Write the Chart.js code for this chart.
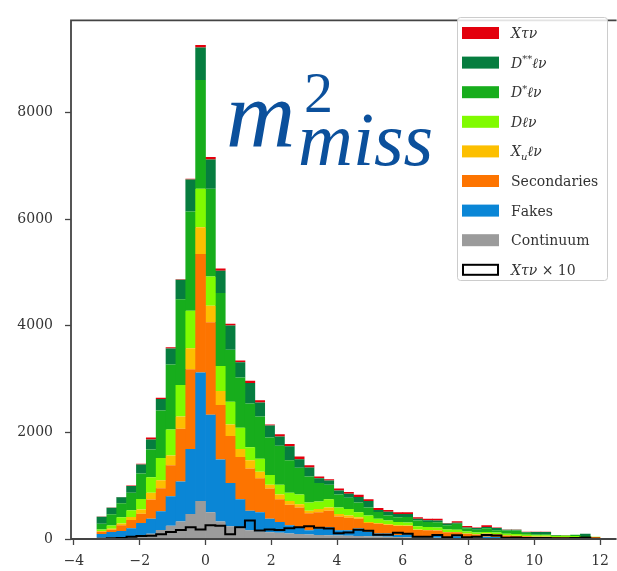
<!DOCTYPE html>
<html>
<head>
<meta charset="utf-8">
<title>m2 miss</title>
<script src="https://cdn.jsdelivr.net/npm/chart.js@4.4.1/dist/chart.umd.min.js"></script>
<style>
  html, body { margin: 0; padding: 0; background: #fff; }
  #wrap { width: 617px; height: 571px; position: relative; }
</style>
</head>
<body>
<div id="wrap"><canvas id="graph"></canvas></div>
<script>
// bin centres, 0.3 wide bins
const binCenters = [-3.15,-2.85,-2.55,-2.25,-1.95,-1.65,-1.35,-1.05,-0.75,-0.45,-0.15,0.15,0.45,0.75,1.05,1.35,1.65,1.95,2.25,2.55,2.85,3.15,3.45,3.75,4.05,4.35,4.65,4.95,5.25,5.55,5.85,6.15,6.45,6.75,7.05,7.35,7.65,7.95,8.25,8.55,8.85,9.15,9.45,9.75,10.05,10.35,10.65,10.95,11.25,11.55,11.85];

// stacked components, bottom to top
const continuum   = [25,30,35,45,65,100,170,250,330,470,714,500,330,240,200,165,140,125,115,105,95,85,75,70,65,60,55,50,45,40,38,35,30,28,25,22,20,18,16,14,12,10,9,8,7,6,5,4,4,3,2];
const fakes       = [67,100,115,155,235,280,350,550,750,1219,2410,1830,1160,810,545,366,360,254,202,151,130,80,121,150,100,105,141,84,59,64,35,50,15,20,30,15,30,12,10,30,25,5,3,2,2,2,1,1,1,0,0];
const secondaries = [45,45,110,155,175,360,430,585,990,1495,2225,1738,1023,884,792,792,640,567,428,385,366,316,304,311,256,232,182,166,180,160,173,160,125,115,105,90,75,70,60,55,50,50,45,40,35,35,30,30,28,22,36];
const xuLnu       = [15,17,30,60,80,130,150,180,230,397,501,306,263,213,152,154,123,73,91,73,62,50,62,60,49,42,30,17,14,11,10,10,7,7,6,5,5,5,4,4,3,3,3,2,2,2,2,2,2,1,1];
const dLnu        = [25,60,120,125,195,290,420,490,590,701,720,549,469,428,397,243,243,183,183,152,183,152,140,154,121,123,92,122,80,73,61,55,61,55,50,45,45,35,30,30,30,32,35,30,25,25,20,22,20,8,1];
const dstarLnu    = [110,214,260,330,480,520,890,1220,1606,1861,2044,1647,1372,975,946,824,794,701,732,611,500,488,347,274,245,212,183,152,130,91,91,105,110,95,100,80,110,60,55,70,45,60,65,35,20,20,12,12,23,20,0];
const dssLnu      = [130,120,112,125,170,185,218,300,366,600,609,549,415,458,286,384,262,225,171,262,160,170,91,80,73,73,104,123,35,73,62,55,30,33,32,35,20,14,30,23,40,12,12,13,40,41,2,1,1,45,0];
const xTauNu      = [4,5,5,8,10,38,20,21,11,17,47,46,43,31,31,43,42,19,42,42,54,44,31,21,37,37,43,31,37,31,30,30,30,25,30,6,30,30,9,30,9,5,5,4,3,3,1,1,1,1,0];
// black outline, X tau nu x 10
const xTauNu10    = [5,15,20,40,55,60,90,130,170,220,180,260,250,90,220,345,160,180,170,200,220,240,210,196,110,120,175,155,80,80,115,100,40,40,75,35,70,35,40,75,65,25,30,20,20,20,15,15,20,30,5];

const xTicks = [-4, -2, 0, 2, 4, 6, 8, 10, 12];
const yTicks = [0, 2000, 4000, 6000, 8000];

const seriesNames = ['Continuum', 'Fakes', 'Secondaries', 'Xuℓν', 'Dℓν', 'D*ℓν', 'D**ℓν', 'Xτν'];
const legendLabels = ['$Xτν$', '$D^{**}ℓν$', '$D^{*}ℓν$', '$Dℓν$', '$X_{u}ℓν$', 'Secondaries', 'Fakes', 'Continuum', '$Xτν$ × 10'];

const stackColors = ['#9b9b9b', '#0a86d6', '#fd7400', '#fcbf00', '#80fb00', '#17ad1c', '#067d3f', '#e3000d'];
const series = [continuum, fakes, secondaries, xuLnu, dLnu, dstarLnu, dssLnu, xTauNu];

const halfBin = (binCenters[1] - binCenters[0]) / 2;
const outline = [];
binCenters.forEach((c, i) => {
  outline.push({ x: c - halfBin, y: xTauNu10[i] });
  outline.push({ x: c + halfBin, y: xTauNu10[i] });
});

const datasets = series.map((vals, k) => ({
  type: 'bar',
  label: seriesNames[k],
  data: binCenters.map((c, i) => ({ x: c, y: vals[i] })),
  backgroundColor: stackColors[k],
  borderWidth: 0,
  inflateAmount: 0,
  stack: 'mc',
  order: 1,
  barPercentage: 1.07,
  categoryPercentage: 1
}));
datasets.push({
  type: 'line',
  label: 'Xτν × 10',
  data: outline,
  borderColor: '#000',
  borderWidth: 2,
  pointRadius: 0,
  fill: false,
  stack: 'ref',
  order: 0
});

// draw a label with $italic$, ^{sup} and _{sub} parts
function richText(ctx, s, x, y, size) {
  let italic = false, i = 0;
  while (i < s.length) {
    const ch = s[i];
    let txt, scale = 1, shift = 0;
    if (ch === '$') { italic = !italic; i++; continue; }
    if ((ch === '^' || ch === '_') && s[i + 1] === '{') {
      const end = s.indexOf('}', i);
      txt = s.slice(i + 2, end);
      i = end + 1;
      scale = 0.68;
      shift = ch === '^' ? -size * 0.38 : size * 0.24;
    } else {
      txt = ch; i++;
    }
    ctx.font = (italic ? 'italic ' : '') + Math.round(size * scale) + 'px "DejaVu Serif"';
    ctx.fillText(txt, x, y + shift);
    x += ctx.measureText(txt).width;
  }
}

const framePlugin = {
  id: 'frame',
  afterDatasetsDraw(chart) {
    const { ctx, chartArea: a } = chart;
    ctx.save();
    ctx.strokeStyle = '#444';
    ctx.lineWidth = 1.8;
    ctx.beginPath();
    ctx.moveTo(a.right + 2, a.top);
    ctx.lineTo(a.left, a.top);
    ctx.lineTo(a.left, a.bottom);
    ctx.lineTo(a.right + 2, a.bottom);
    ctx.stroke();
    ctx.restore();
  }
};

const legendPlugin = {
  id: 'boxLegend',
  afterDraw(chart) {
    const ctx = chart.ctx;
    const bx = 457, by = 17, bw = 150, bh = 263;
    ctx.save();
    ctx.fillStyle = 'rgba(255,255,255,0.85)';
    ctx.strokeStyle = '#cccccc';
    ctx.lineWidth = 1;
    ctx.beginPath();
    ctx.roundRect(bx + 0.5, by + 0.5, bw, bh, 3);
    ctx.fill();
    ctx.stroke();
    const order = [7, 6, 5, 4, 3, 2, 1, 0];
    legendLabels.forEach((lab, r) => {
      const cy = 33 + r * 29.6;
      if (r < order.length) {
        ctx.fillStyle = stackColors[order[r]];
        ctx.fillRect(462, cy - 6, 37, 12);
      } else {
        ctx.fillStyle = '#fff';
        ctx.fillRect(462, cy - 6, 37, 12);
        ctx.strokeStyle = '#000';
        ctx.lineWidth = 2;
        ctx.strokeRect(463, cy - 5, 35, 10);
      }
      ctx.fillStyle = '#333';
      ctx.textBaseline = 'alphabetic';
      richText(ctx, lab, 511, cy + 5, 14);
    });
    ctx.restore();
  }
};

const titlePlugin = {
  id: 'mmiss',
  afterDraw(chart) {
    const ctx = chart.ctx;
    ctx.save();
    ctx.fillStyle = '#0b509c';
    ctx.textBaseline = 'alphabetic';
    ctx.font = 'italic 96px "Liberation Serif"';
    ctx.fillText('m', 226, 147);
    ctx.font = '58px "Liberation Serif"';
    ctx.fillText('2', 304, 112);
    ctx.font = 'italic 76px "Liberation Serif"';
    ctx.fillText('miss', 298, 165);
    ctx.restore();
  }
};

const tickFont = { family: '"DejaVu Serif"', size: 14 };

new Chart(document.getElementById('graph').getContext('2d'), {
  type: 'bar',
  data: { datasets },
  options: {
    responsive: true,
    maintainAspectRatio: false,
    animation: false,
    layout: { padding: { top: 8, left: 0, right: 0, bottom: 0 } },
    plugins: { legend: { display: false }, tooltip: { enabled: false } },
    scales: {
      x: {
        type: 'linear',
        stacked: true,
        offset: false,
        min: -4.09,
        max: 12.44,
        border: { display: false },
        grid: { offset: false, drawOnChartArea: false, drawTicks: true, tickLength: 6, tickColor: '#444', tickWidth: 1.3 },
        afterBuildTicks: (scale) => { scale.ticks = xTicks.map(v => ({ value: v })); },
        afterFit: (scale) => { scale.height = 32; },
        ticks: {
          font: tickFont, color: '#333', padding: 8, maxRotation: 0, autoSkip: false,
          callback: (v) => (v < 0 ? '\u2212' + Math.abs(v) : String(v))
        }
      },
      y: {
        stacked: true,
        min: 0,
        max: 9730,
        border: { display: false },
        grid: { drawOnChartArea: false, drawTicks: true, tickLength: 6, tickColor: '#444', tickWidth: 1.3 },
        afterBuildTicks: (scale) => { scale.ticks = yTicks.map(v => ({ value: v })); },
        afterFit: (scale) => { scale.width = 71; },
        ticks: { font: tickFont, color: '#333', padding: 12, callback: (v) => String(v) }
      }
    }
  },
  plugins: [framePlugin, legendPlugin, titlePlugin]
});
</script>
</body>
</html>
